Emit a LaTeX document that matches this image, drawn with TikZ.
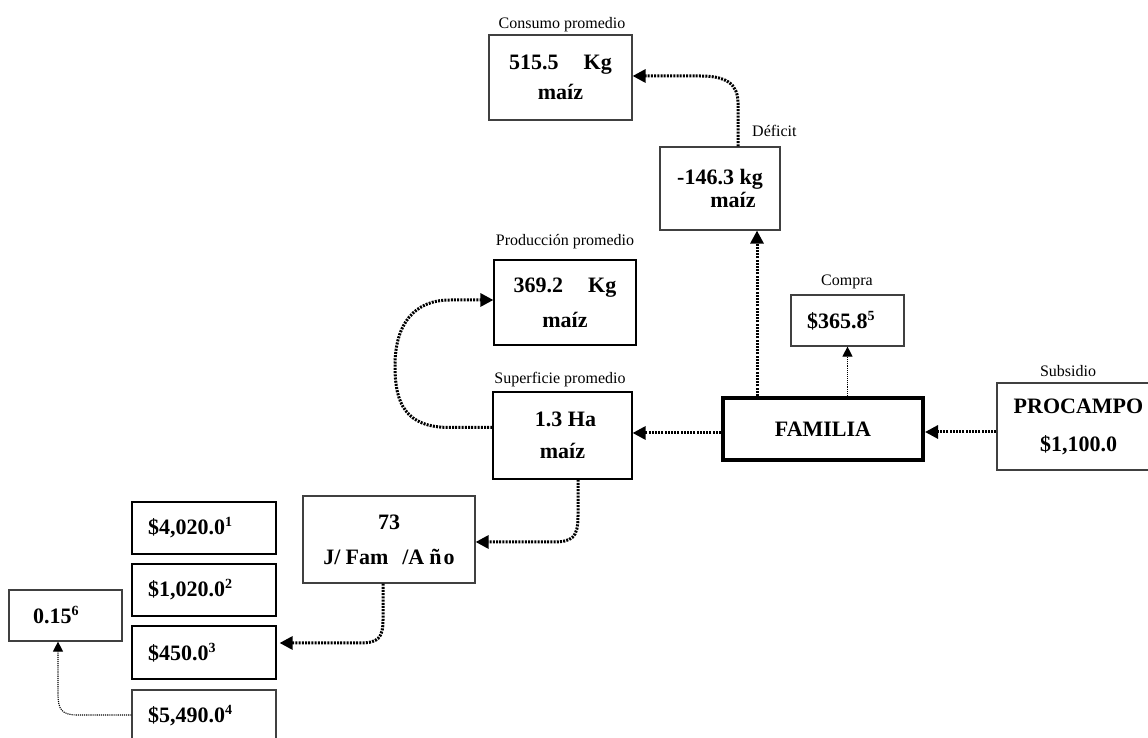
\documentclass[tikz,border=0pt]{standalone}
\usepackage{fontspec}
\setmainfont{Liberation Serif}
\usetikzlibrary{arrows.meta,calc}
\newcommand{\supnum}[1]{\raisebox{8pt}{\fontsize{14}{14}\selectfont #1}}
\begin{document}
\begin{tikzpicture}[x=1pt,y=1pt,
  box/.style={draw=black!75,line width=1.2pt,rectangle,inner sep=0pt,align=center,
     font=\fontsize{22}{33}\selectfont\bfseries},
  solidbox/.style={box,draw=black},
  leftbox/.style={box,draw=black,align=left,inner xsep=16pt,text width=112pt,minimum height=52pt},
  lbl/.style={font=\fontsize{16}{18}\selectfont,anchor=base,inner sep=0pt},
  thickarrow/.style={line width=3pt,dash pattern=on 2pt off 1.2pt,
     -{Triangle[length=13pt,width=13pt]}},
  thinarrow/.style={line width=1.1pt,dash pattern=on 1.1pt off 1pt,
     -{Triangle[length=10pt,width=10pt]}}
]
\clip (0,0) rectangle (1148,738);
\fill[white] (0,0) rectangle (1148,738);

% boxes
\node[box,minimum width=143pt,minimum height=85pt] (cons) at (560.5,660.5)
  {515.5\hspace{25pt}Kg\\[-3pt]maíz};
\node[box,minimum width=120pt,minimum height=83pt] (def) at (720,549.5)
  {-146.3 kg\\[-10pt]\hspace*{26pt}maíz};
\node[solidbox,minimum width=142pt,minimum height=85pt] (prod) at (565,435.5)
  {369.2\hspace{25pt}Kg\\[2pt]maíz};
\node[box,minimum width=113pt,minimum height=51pt,align=left,inner xsep=16pt,text width=81pt] (compra) at (847.5,417.5)
  {\$365.8\supnum{5}};
\node[solidbox,minimum width=139pt,minimum height=87pt] (sup) at (562.5,302.5)
  {\hspace*{6pt}1.3 Ha\\[-1pt]maíz};
\node[box,draw=black,line width=4pt,minimum width=200pt,minimum height=62pt] (fam) at (823,309)
  {FAMILIA};
\node[box,minimum width=163pt,minimum height=87pt] (proc) at (1078.5,311.5)
  {PROCAMPO\\[5pt]\$1,100.0};
\node[box,minimum width=172pt,minimum height=87pt] (j73) at (389,198.5)
  {73\\[2pt]J/\hspace{5pt}Fam\hspace{14pt}/A\hspace{5pt}ñ\hspace{2pt}o};
\node[leftbox] (b1) at (204,210) {\$4,020.0\supnum{1}};
\node[leftbox] (b2) at (204,148) {\$1,020.0\supnum{2}};
\node[leftbox,minimum height=53pt] (b3) at (204,85.5) {\$450.0\supnum{3}};
\node[leftbox,draw=black!75] (b4) at (204,22) {\$5,490.0\supnum{4}};
\node[box,minimum width=113pt,minimum height=51pt,align=left,inner xsep=24pt,text width=65pt] (p15) at (65.5,122.5)
  {0.15\supnum{6}};

% labels
\node[lbl] (lcons) at (562,709) {Consumo promedio};
\node[lbl,anchor=base west] (ldef) at (752,601) {Déficit};
\node[lbl] (lprod) at (565,492) {Producción promedio};
\node[lbl] (lsup) at (560,354) {Superficie promedio};
\node[lbl] (lcompra) at (847,452) {Compra};
\node[lbl] (lsub) at (1068,361) {Subsidio};

% connectors
\draw[thickarrow] ([xshift=18pt]def.north) -- (738,635)
  .. controls (738,655) and (725,662) .. (700,662) -- (cons.east |- 0,662);
\draw[thickarrow] ([xshift=-66pt]fam.north) -- ([xshift=37pt]def.south);
\draw[thinarrow] (compra.south |- fam.north) -- (compra.south);
\draw[thickarrow] (proc.west |- 0,306) -- (fam.east |- 0,306);
\draw[thickarrow] (fam.west |- 0,305) -- (sup.east |- 0,305);
\draw[thickarrow] ([yshift=8pt]sup.west) -- (450,310.5)
  .. controls (405,310.5) and (395,335) .. (395,372)
  .. controls (395,415) and (415,438) .. (450,438) -- (prod.west |- 0,438);
\draw[thickarrow] ([xshift=15.5pt]sup.south) -- (578,222)
  .. controls (578,200) and (572,196) .. (552,196) -- (j73.east |- 0,196);
\draw[thickarrow,shorten >=3pt] ([xshift=-6pt]j73.south) -- (383,118)
  .. controls (383,100) and (378,95) .. (360,95) -- (b3.east |- 0,95);
\draw[thinarrow] (b4.west |- 0,23) -- (78,23)
  .. controls (62,23) and (58,28) .. (58,44) -- ([xshift=-7.5pt]p15.south);
\end{tikzpicture}
\end{document}
